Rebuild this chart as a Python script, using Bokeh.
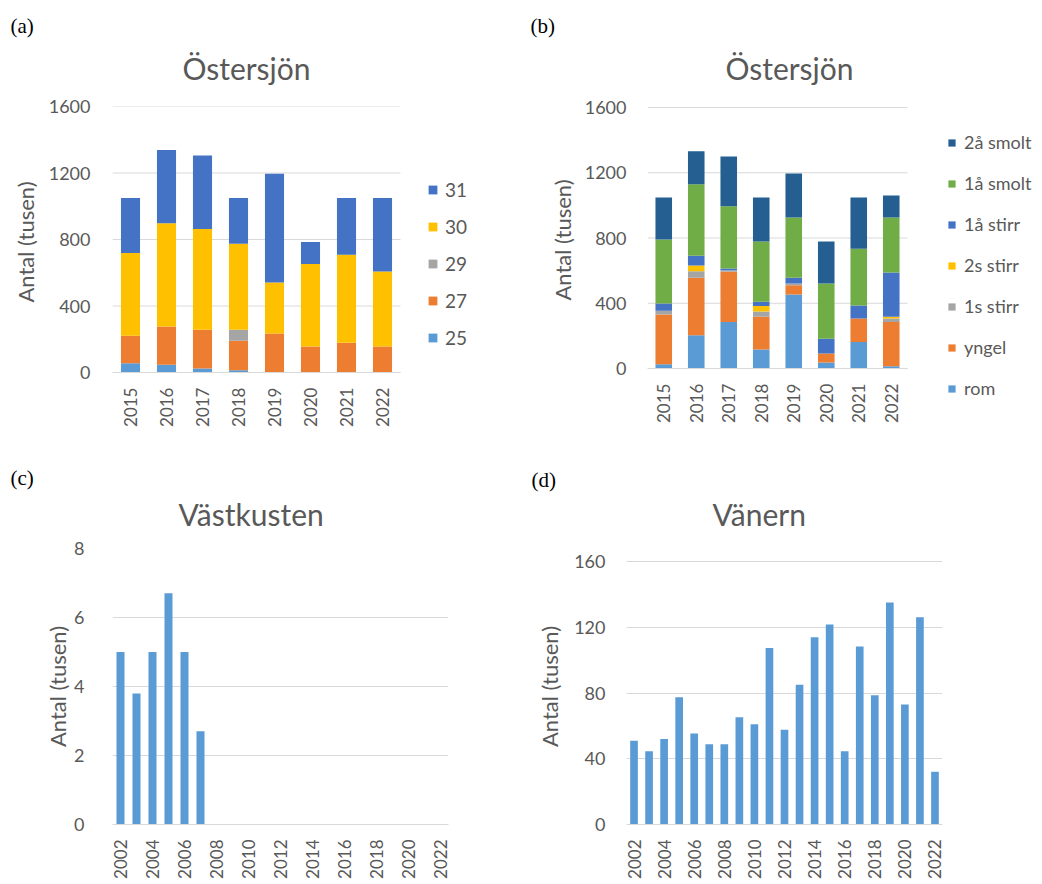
import math
from bokeh.plotting import figure
from bokeh.models import Range1d, Legend, LegendItem, FixedTicker, Title
from bokeh.layouts import column, row
from bokeh.embed import file_html
from bokeh.resources import INLINE

# ---------------- data ----------------
years_ab = ["2015", "2016", "2017", "2018", "2019", "2020", "2021", "2022"]

# (a) Östersjön by area
a_25 = [56, 46, 24, 14, 0, 0, 0, 0]
a_27 = [165, 231, 233, 177, 235, 157, 179, 157]
a_29 = [0, 0, 0, 66, 0, 0, 0, 0]
a_30 = [498, 621, 606, 518, 307, 496, 530, 451]
a_31 = [331, 441, 442, 275, 653, 132, 341, 442]
a_series = ["25", "27", "29", "30", "31"]

# (b) Östersjön by life stage
b_rom = [27, 204, 286, 117, 454, 37, 162, 14]
b_yngel = [304, 352, 307, 200, 57, 55, 145, 272]
b_1s_stirr = [23, 41, 10, 33, 10, 0, 0, 21]
b_2s_stirr = [0, 35, 0, 34, 0, 0, 0, 10]
b_1a_stirr = [45, 59, 10, 25, 35, 90, 80, 272]
b_1a_smolt = [392, 438, 381, 370, 370, 339, 347, 337]
b_2a_smolt = [258, 202, 305, 270, 270, 258, 315, 135]
b_series = ["rom", "yngel", "1s stirr", "2s stirr", "1å stirr", "1å smolt", "2å smolt"]

ticks_ab = [0, 400, 800, 1200, 1600]

# (c) Västkusten
years_cd = list(range(2002, 2023))
c_vals = [5.0, 3.8, 5.0, 6.7, 5.0, 2.7, 0, 0, 0, 0, 0, 0, 0, 0, 0, 0, 0, 0, 0, 0, 0]

# (d) Vänern
d_vals = [51, 44.6, 52, 77.5, 55.4, 48.8, 48.8, 65.3, 61, 107.4, 57.6, 85.1,
          114, 121.7, 44.6, 108.4, 78.7, 135.1, 73.1, 126.1, 32.1]

ticks_cd = list(range(2002, 2023, 2))

# ---------------- style ----------------
GRAY = "#595959"
GRID = "#d9d9d9"
FONT = "Lato"
SERIF = "Liberation Serif"
C_LBLUE = "#5B9BD5"
C_ORANGE = "#ED7D31"
C_GRAY = "#A5A5A5"
C_YELLOW = "#FFC000"
C_BLUE = "#4472C4"
C_GREEN = "#70AD47"
C_DBLUE = "#255E91"


def make_fig(x_range, y_range, w, h, left, right, top, bottom):
    p = figure(x_range=x_range, y_range=y_range, width=w, height=h,
               min_border_left=left, min_border_right=right,
               min_border_top=top, min_border_bottom=bottom,
               output_backend="svg", toolbar_location=None, title=None)
    p.outline_line_color = None
    p.background_fill_color = "white"
    p.border_fill_color = "white"
    p.xgrid.grid_line_color = None
    p.ygrid.grid_line_color = GRID
    p.ygrid.grid_line_width = 1
    p.yaxis.axis_line_color = None
    p.xaxis.axis_line_color = GRID
    for ax in (p.xaxis[0], p.yaxis[0]):
        ax.major_tick_line_color = None
        ax.minor_tick_line_color = None
        ax.major_tick_out = 0
        ax.major_tick_in = 0
        ax.minor_tick_out = 0
        ax.minor_tick_in = 0
        ax.major_label_text_font = FONT
        ax.major_label_text_font_size = "18px"
        ax.major_label_text_color = GRAY
        ax.axis_label_text_font = FONT
        ax.axis_label_text_font_size = "22px"
        ax.axis_label_text_color = GRAY
        ax.axis_label_text_font_style = "normal"
    p.xaxis.major_label_text_font_size = "17px"
    p.xaxis.major_label_orientation = math.pi / 2
    p.xaxis.major_label_standoff = 15
    return p


def add_titles(p, title, title_offset, title_standoff, label, label_offset, label_standoff):
    t = Title(text=title, align="left", offset=title_offset,
              text_font=FONT, text_font_size="30px", text_color=GRAY,
              text_font_style="normal", standoff=title_standoff)
    p.add_layout(t, "above")
    lab = Title(text=label, align="left", offset=label_offset,
                text_font=SERIF, text_font_size="21px", text_color="black",
                text_font_style="normal", standoff=label_standoff)
    p.add_layout(lab, "above")


def stacked_panel(y_range, left, cat_px, stack_cols, colors, src, bar_w,
                  names, legend_loc, glyph, spacing, standoff, leg_font,
                  ylab_offset, ylab_standoff):
    n = len(years_ab)
    xpos = list(range(1, n + 1))
    x_end = 0.5 + (520 - left) / cat_px
    p = make_fig(Range1d(0.5, x_end), y_range, 520, 450, left, 0, 106, 10)
    # horizontal grid only over the category area
    p.ygrid.visible = False
    p.segment(x0=[0.5] * len(ticks_ab), x1=[n + 0.5] * len(ticks_ab),
              y0=ticks_ab, y1=ticks_ab, line_color=GRID, line_width=1)
    p.yaxis.ticker = FixedTicker(ticks=ticks_ab)
    p.xaxis.ticker = FixedTicker(ticks=xpos)
    p.xaxis.major_label_overrides = {x: y for x, y in zip(xpos, years_ab)}
    p.xaxis.fixed_location = 0
    p.xaxis.bounds = (0.5, n + 0.5)
    src = dict(src, x=xpos)
    rs = p.vbar_stack(stack_cols, x="x", width=bar_w, source=src,
                      color=colors, line_color=None)
    items = [LegendItem(label=names[i], renderers=[rs[i]]) for i in range(len(rs) - 1, -1, -1)]
    leg = Legend(items=items, location=legend_loc, orientation="vertical",
                 glyph_width=glyph, glyph_height=glyph, label_height=24,
                 spacing=spacing, label_standoff=standoff,
                 padding=0, margin=0,
                 label_text_font=FONT, label_text_font_size=leg_font,
                 label_text_color=GRAY,
                 border_line_color=None, background_fill_alpha=0)
    p.add_layout(leg, "center")
    ylab = Title(text="Antal (tusen)", align="left", offset=ylab_offset,
                 text_font=FONT, text_font_size="22px", text_color=GRAY,
                 text_font_style="normal", standoff=ylab_standoff)
    p.add_layout(ylab, "left")
    return p


# ---------------- (a) ----------------
pa = stacked_panel(Range1d(-409, 1600), 112, 36,
                   ["s25", "s27", "s29", "s30", "s31"],
                   [C_LBLUE, C_ORANGE, C_GRAY, C_YELLOW, C_BLUE],
                   dict(s25=a_25, s27=a_27, s29=a_29, s30=a_30, s31=a_31), 0.53,
                   a_series, (315, 91), 11, 13, 7, "19px", 138, 14)
pa.yaxis.major_label_standoff = 22
add_titles(pa, "Östersjön", 70, 41, "(a)", -102, -20)

# ---------------- (b) ----------------
pb = stacked_panel(Range1d(-441, 1606), 127, 32.5,
                   ["rom", "yngel", "s1", "s2", "a1s", "a1m", "a2m"],
                   [C_LBLUE, C_ORANGE, C_GRAY, C_YELLOW, C_BLUE, C_GREEN, C_DBLUE],
                   dict(rom=b_rom, yngel=b_yngel, s1=b_1s_stirr, s2=b_2s_stirr,
                        a1s=b_1a_stirr, a1m=b_1a_smolt, a2m=b_2a_smolt), 0.51,
                   b_series, (300, 40), 9, 17, 8, "18px", 140, 12)
pb.yaxis.major_label_standoff = 21
add_titles(pb, "Östersjön", 78, 41, "(b)", -117, -20)

# ---------------- (c) ----------------
pc = make_fig(Range1d(2001.5, 2022.5), Range1d(0, 8), 520, 432, 112, 72, 98, 58)
pc.xaxis.ticker = FixedTicker(ticks=ticks_cd)
pc.yaxis.ticker = FixedTicker(ticks=[0, 2, 4, 6, 8])
pc.yaxis.axis_label = "Antal (tusen)"
pc.yaxis.major_label_standoff = 28
pc.yaxis.axis_label_standoff = 0
pc.vbar(x=years_cd, top=c_vals, width=0.5, color=C_LBLUE, line_color=None)
add_titles(pc, "Västkusten", 66, 34, "(c)", -102, -26)

# ---------------- (d) ----------------
pd_ = make_fig(Range1d(2001.5, 2022.5), Range1d(0, 168), 520, 432, 106, 98, 98, 58)
pd_.xaxis.ticker = FixedTicker(ticks=ticks_cd)
pd_.yaxis.ticker = FixedTicker(ticks=[0, 40, 80, 120, 160])
pd_.yaxis.axis_label = "Antal (tusen)"
pd_.yaxis.major_label_standoff = 21
pd_.yaxis.axis_label_standoff = 8
pd_.vbar(x=years_cd, top=d_vals, width=0.51, color=C_LBLUE, line_color=None)
add_titles(pd_, "Vänern", 86, 34, "(d)", -95, -30)

layout = column(row(pa, pb), row(pc, pd_))
open("out.html", "w").write(file_html(layout, INLINE))
